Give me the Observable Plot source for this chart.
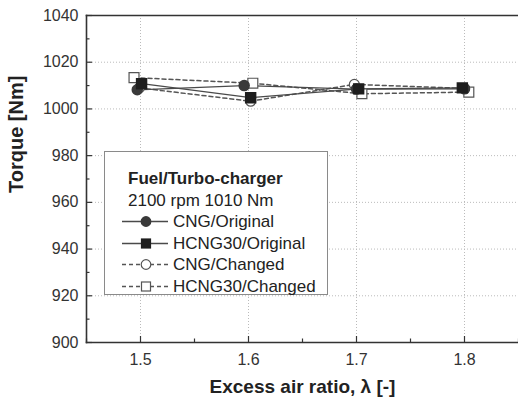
<!DOCTYPE html>
<html><head><meta charset="utf-8">
<script src="https://cdn.jsdelivr.net/npm/d3@7"></script>
<script src="https://cdn.jsdelivr.net/npm/@observablehq/plot@0.6"></script>
<style>
html,body{margin:0;padding:0;background:#fff;}
#wrap{position:relative;width:518px;height:405px;overflow:hidden;font-family:"Liberation Sans",Arial,sans-serif;}
#legend{position:absolute;left:104px;top:151px;width:222px;height:142px;border:1px solid #8a8a8a;background:#fff;box-sizing:content-box;padding:0;}
#legend .row{position:absolute;left:0;height:21px;line-height:21px;font-size:17px;color:#222;white-space:nowrap;}
#legend svg{position:absolute;left:16px;top:0;}
</style>
</head><body>
<div id="wrap"></div>
<script>
// ---- data ----
const lambdaTicks = [1.5, 1.6, 1.7, 1.8];
const torqueTicks = [900, 920, 940, 960, 980, 1000, 1020, 1040];
const seriesNames = ["CNG/Original", "HCNG30/Original", "CNG/Changed", "HCNG30/Changed"];

const cngOrigX = [1.497, 1.596, 1.700, 1.800];
const cngOrigY = [1008.2, 1010.0, 1008.5, 1008.6];
const hcngOrigX = [1.501, 1.602, 1.702, 1.798];
const hcngOrigY = [1010.8, 1004.8, 1008.6, 1009.0];
const cngChgX = [1.499, 1.602, 1.698, 1.800];
const cngChgY = [1009.0, 1003.3, 1010.5, 1008.8];
const hcngChgX = [1.494, 1.604, 1.705, 1.804];
const hcngChgY = [1013.4, 1011.0, 1006.5, 1007.2];

const legendTitle = "Fuel/Turbo-charger";
const legendSub = "2100 rpm 1010 Nm";
const xLabel = "Excess air ratio, \u03bb [-]";
const yLabel = "Torque [Nm]";

const mk = (xs, ys, name) => xs.map((x, i) => ({x, y: ys[i], name}));
const cngOrig = mk(cngOrigX, cngOrigY, seriesNames[0]);
const hcngOrig = mk(hcngOrigX, hcngOrigY, seriesNames[1]);
const cngChg = mk(cngChgX, cngChgY, seriesNames[2]);
const hcngChg = mk(hcngChgX, hcngChgY, seriesNames[3]);

const minorX = [1.45, 1.55, 1.65, 1.75, 1.85];
const minorY = [910, 930, 950, 970, 990, 1010, 1030];

const lineCol = "#4a4a4a";
const dashCol = "#555";

const chart = Plot.plot({
  width: 518,
  height: 405,
  marginLeft: 86,
  marginRight: 0,
  marginTop: 15,
  marginBottom: 63,
  style: {fontFamily: "Liberation Sans, Arial, sans-serif", background: "#fff", overflow: "visible"},
  x: {domain: [1.45, 1.85]},
  y: {domain: [900, 1040]},
  marks: [
    Plot.gridX(lambdaTicks, {stroke: "#bbb", strokeOpacity: 1, strokeDasharray: "1,2"}),
    Plot.gridY(torqueTicks.slice(1, -1), {stroke: "#bbb", strokeOpacity: 1, strokeDasharray: "1,2"}),
    // lines
    Plot.line(cngChg, {x: "x", y: "y", stroke: dashCol, strokeWidth: 1.5, strokeDasharray: "4,3"}),
    Plot.line(hcngChg, {x: "x", y: "y", stroke: dashCol, strokeWidth: 1.5, strokeDasharray: "4,3"}),
    Plot.line(cngOrig, {x: "x", y: "y", stroke: lineCol, strokeWidth: 1.3}),
    Plot.line(hcngOrig, {x: "x", y: "y", stroke: lineCol, strokeWidth: 1.3}),
    // markers
    Plot.dot(hcngChg, {x: "x", y: "y", symbol: "square", r: 5.6, fill: "#fff", stroke: "#555", strokeWidth: 1.2}),
    Plot.dot(cngChg, {x: "x", y: "y", symbol: "circle", r: 5, fill: "#fff", stroke: "#555", strokeWidth: 1.2}),
    Plot.dot(cngOrig, {x: "x", y: "y", symbol: "circle", r: 5, fill: "#3a3a3a", stroke: "#3a3a3a"}),
    Plot.dot(hcngOrig, {x: "x", y: "y", symbol: "square", r: 5.6, fill: "#1e1e1e", stroke: "#1e1e1e"}),
    // frame lines
    Plot.frame({anchor: "left", stroke: "#333", strokeWidth: 1.6}),
    Plot.frame({anchor: "bottom", stroke: "#333", strokeWidth: 1.6}),
    Plot.frame({anchor: "top", stroke: "#333", strokeWidth: 1.6}),
    // axes (inward ticks)
    Plot.axisX(lambdaTicks, {tickSize: -6, tickPadding: 17, fontSize: 16, fill: "#333", stroke: "#333", strokeWidth: 1.2, label: null, tickFormat: d => d.toFixed(1)}),
    Plot.axisX(minorX, {tickSize: -3.5, text: null, stroke: "#333", strokeWidth: 1.2, label: null}),
    Plot.axisY(torqueTicks, {tickSize: -6, tickPadding: 14, fontSize: 16, fill: "#333", stroke: "#333", strokeWidth: 1.2, label: null, tickFormat: d => String(d)}),
    Plot.axisY(minorY, {tickSize: -3.5, text: null, stroke: "#333", strokeWidth: 1.2, label: null}),
    Plot.text([xLabel], {frameAnchor: "bottom", dy: 50, fontSize: 19, fontWeight: "bold", fill: "#222"}),
    Plot.text([yLabel], {frameAnchor: "left", dx: -70, dy: 14, rotate: -90, fontSize: 20, fontWeight: "bold", fill: "#222"})
  ]
});

const wrap = document.getElementById("wrap");
wrap.appendChild(chart);

// legend
const leg = document.createElement("div");
leg.id = "legend";
const rows = [
  {text: legendTitle, bold: true},
  {text: legendSub},
  {text: seriesNames[0], sym: "circle", fill: "#3a3a3a", dash: null},
  {text: seriesNames[1], sym: "square", fill: "#1e1e1e", dash: null},
  {text: seriesNames[2], sym: "circle", fill: "#fff", dash: "4,3"},
  {text: seriesNames[3], sym: "square", fill: "#fff", dash: "4,3"}
];
rows.forEach((r, i) => {
  const d = document.createElement("div");
  d.className = "row";
  d.style.top = (16 + i * 21.5) + "px";
  if (!r.sym) {
    d.style.left = "23px";
    d.textContent = r.text;
    if (r.bold) { d.style.fontWeight = "bold"; }
  } else {
    d.style.left = "0px";
    const ns = "http://www.w3.org/2000/svg";
    const s = document.createElementNS(ns, "svg");
    s.setAttribute("width", 50); s.setAttribute("height", 21);
    const ln = document.createElementNS(ns, "line");
    ln.setAttribute("x1", 1); ln.setAttribute("x2", 47); ln.setAttribute("y1", 10.5); ln.setAttribute("y2", 10.5);
    ln.setAttribute("stroke", r.dash ? dashCol : lineCol); ln.setAttribute("stroke-width", 1.4);
    if (r.dash) ln.setAttribute("stroke-dasharray", r.dash);
    s.appendChild(ln);
    let m;
    if (r.sym === "circle") {
      m = document.createElementNS(ns, "circle");
      m.setAttribute("cx", 25); m.setAttribute("cy", 10.5); m.setAttribute("r", 4.8);
    } else {
      m = document.createElementNS(ns, "rect");
      m.setAttribute("x", 20.5); m.setAttribute("y", 6); m.setAttribute("width", 9); m.setAttribute("height", 9);
    }
    m.setAttribute("fill", r.fill);
    m.setAttribute("stroke", r.fill === "#fff" ? "#555" : r.fill);
    m.setAttribute("stroke-width", 1.2);
    s.appendChild(m);
    s.style.left = "16px";
    d.appendChild(s);
    const t = document.createElement("span");
    t.textContent = r.text;
    t.style.position = "absolute"; t.style.left = "68px";
    d.appendChild(t);
  }
  leg.appendChild(d);
});
wrap.appendChild(leg);
</script>
</body></html>
